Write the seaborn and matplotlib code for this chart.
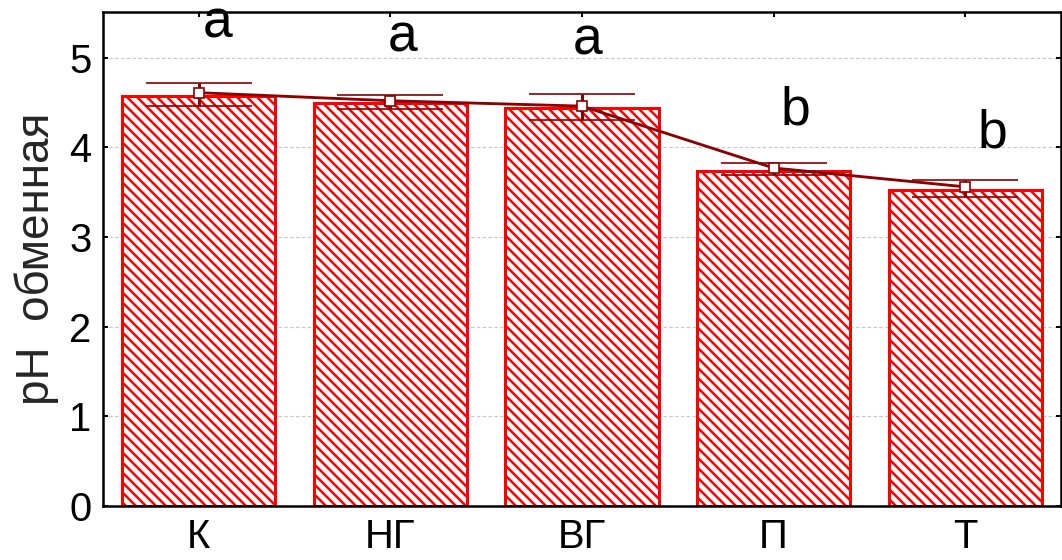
import matplotlib
matplotlib.use("Agg")
import matplotlib.pyplot as plt
import seaborn as sns
import numpy as np
import pandas as pd

# Treatment groups and exchangeable acidity values
groups = ["К", "НГ", "ВГ", "П", "Т"]
bar_values = [4.57, 4.50, 4.44, 3.74, 3.53]
mean_values = [4.61, 4.52, 4.46, 3.77, 3.56]
upper_values = [4.72, 4.58, 4.60, 3.83, 3.64]
lower_values = [4.46, 4.43, 4.30, 3.69, 3.45]
sig_letters = ["a", "a", "a", "b", "b"]

# Placement of significance letters (x offset from bar centre, baseline y)
letter_dx = [0.10, 0.064, 0.03, 0.113, 0.14]
letter_y = [5.23, 5.07, 5.04, 4.25, 4.00]

sns.set_style("ticks")
plt.rcParams["font.family"] = ["Liberation Sans", "DejaVu Sans"]
plt.rcParams["hatch.linewidth"] = 1.5

DPI = 120
fig = plt.figure(figsize=(1062 / DPI, 560 / DPI), dpi=DPI)
ax = fig.add_axes([103 / 1062, 1 - 506 / 560, (1061 - 103) / 1062, (506 - 12) / 560])

df = pd.DataFrame({"group": groups, "value": bar_values})
sns.barplot(data=df, x="group", y="value", ax=ax, color="white", saturation=1,
            edgecolor="red", linewidth=1.8, hatch="\\\\\\\\", width=0.8,
            errorbar=None, zorder=2)

dark = "#8B0000"
means = np.array(mean_values)
yerr = np.vstack([means - np.array(lower_values), np.array(upper_values) - means])
ax.errorbar(np.arange(len(groups)), means, yerr=yerr, color=dark, lw=1.7,
            elinewidth=1.8, capsize=32, capthick=1.9, marker="s", ms=6,
            mfc="white", mec=dark, mew=1.0, zorder=4)

for i, (lab, dx, y) in enumerate(zip(sig_letters, letter_dx, letter_y)):
    ax.text(i + dx, y, lab, ha="center", va="baseline", fontsize=32,
            color="black", zorder=5, clip_on=False)

ax.set_xlim(-0.5, len(groups) - 0.5)
ax.set_ylim(0, 5.51)
ax.set_yticks([0, 1, 2, 3, 4, 5])
ax.yaxis.grid(True, linestyle=(0, (3, 2)), color="#c8c8c8", linewidth=0.7, zorder=0)
ax.set_axisbelow(True)

for side in ["left", "right", "top", "bottom"]:
    ax.spines[side].set_visible(True)
    ax.spines[side].set_linewidth(1.5)
    ax.spines[side].set_color("black")

ax.tick_params(axis="both", direction="in", length=3, width=1.2, colors="black",
               labelsize=24, top=True, right=True)
ax.tick_params(axis="x", pad=7)
ax.tick_params(axis="y", pad=7)

ax.set_xlabel("")
ax.set_ylabel("pH  обменная", fontsize=27.5, labelpad=6)

fig.savefig("out.png", dpi=DPI)
